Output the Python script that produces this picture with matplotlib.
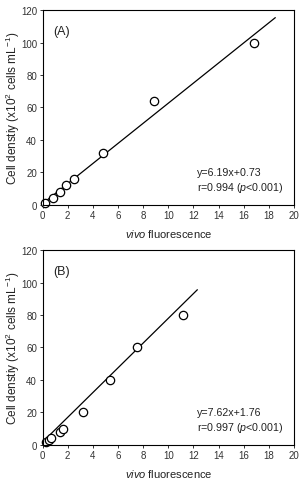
import matplotlib
matplotlib.use("Agg")
from matplotlib import pyplot as plt
import numpy as np

plt.rcParams['font.family'] = ['Liberation Sans', 'DejaVu Sans']
plt.rcParams['mathtext.fontset'] = 'custom'
plt.rcParams['mathtext.rm'] = 'Liberation Sans'
plt.rcParams['mathtext.it'] = 'Liberation Sans:italic'

# panel A
xA = [0.2, 0.8, 1.4, 1.9, 2.5, 4.8, 8.9, 16.8]
yA = [1, 4, 8, 12, 16, 32, 64, 100]
fitA = (6.19, 0.73)
lineA = [0, 18.5]
# panel B
xB = [0.3, 0.5, 0.7, 1.4, 1.6, 3.2, 5.4, 7.5, 11.2]
yB = [2, 3, 4, 8, 10, 20, 40, 60, 80]
fitB = (7.62, 1.76)
lineB = [0, 12.3]

labels = ["(A)", "(B)"]
eqs = ["y=6.19x+0.73\nr=0.994 ($\\it{p}$<0.001)",
       "y=7.62x+1.76\nr=0.997 ($\\it{p}$<0.001)"]

fig = plt.figure(figsize=(3.0, 4.81), dpi=100)
axA = fig.add_axes([0.142, 0.572, 0.838, 0.405])
axB = fig.add_axes([0.142, 0.073, 0.838, 0.405])

for ax, x, y, fit, ln, lab, eq in [(axA, xA, yA, fitA, lineA, labels[0], eqs[0]),
                                   (axB, xB, yB, fitB, lineB, labels[1], eqs[1])]:
    lx = np.array(ln)
    ax.plot(lx, fit[0] * lx + fit[1], color="k", lw=0.9)
    ax.plot(x, y, "o", mfc="white", mec="k", ms=6, mew=0.9, clip_on=False)
    ax.set_xlim(0, 20)
    ax.set_ylim(0, 120)
    ax.set_xticks(range(0, 21, 2))
    ax.set_yticks(range(0, 121, 20))
    ax.tick_params(labelsize=7, length=2.5, width=0.7, pad=1.5, colors="#333333")
    ax.tick_params(top=False, right=False)
    for s in ax.spines.values():
        s.set_linewidth(0.8)
    ax.set_xlabel("$\\it{vivo}$ fluorescence", fontsize=8, labelpad=5, color="#222222")
    ax.set_ylabel("Cell denstiy (x10$^2$ cells mL$^{-1}$)", fontsize=8.5,
                  color="#222222")
    ax.yaxis.set_label_coords(-0.08, 0.5)
    ax.text(0.85, 107, lab, fontsize=9, va="center", color="#222222")
    ax.text(12.3, 15, eq, fontsize=7.7, va="center", linespacing=1.35, color="#222222")

fig.savefig("out.png", dpi=100)
